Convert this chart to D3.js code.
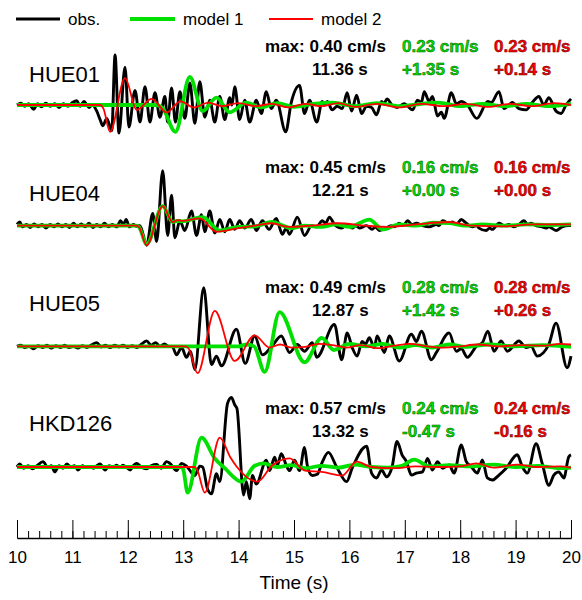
<!DOCTYPE html>
<html>
<head>
<meta charset="utf-8">
<script src="https://cdn.jsdelivr.net/npm/d3@7"></script>
<style>
  body { margin: 0; background: #fff; }
  text { font-family: "Liberation Sans", Arial, sans-serif; }
</style>
</head>
<body>
<svg id="chart" width="582" height="600"></svg>
<script>
// Stations and peak info
const stations = ["HUE01", "HUE04", "HUE05", "HKD126"];
const obsMax = ["0.40", "0.45", "0.49", "0.57"];
const obsTime = ["11.36", "12.21", "12.87", "13.32"];
const m1Max = ["0.23", "0.16", "0.28", "0.24"];
const m1Shift = ["+1.35", "+0.00", "+1.42", "-0.47"];
const m2Max = ["0.23", "0.16", "0.28", "0.24"];
const m2Shift = ["+0.14", "+0.00", "+0.26", "-0.16"];
const timeTicks = [10, 11, 12, 13, 14, 15, 16, 17, 18, 19, 20];

// Waveforms: [time (s), velocity (cm/s)] at turning points
const hue01Obs = [[10.00,0.00],[10.07,0.015],[10.14,-0.01],[10.21,0.01],[10.30,-0.035],[10.37,0.01],[10.44,-0.015],[10.52,0.015],[10.60,-0.01],[10.68,0.01],[10.76,-0.02],[10.84,0.01],[10.92,-0.01],[11.00,0.02],[11.08,0.035],[11.14,-0.01],[11.21,0.03],[11.30,-0.02],[11.36,0.0],[11.44,-0.05],[11.50,-0.12],[11.55,-0.17],[11.62,-0.11],[11.71,-0.21],[11.77,0.41],[11.84,-0.23],[11.95,0.31],[12.02,-0.18],[12.13,0.12],[12.22,-0.14],[12.31,0.15],[12.40,-0.14],[12.49,0.10],[12.58,-0.10],[12.67,0.07],[12.72,-0.14],[12.79,0.14],[12.86,-0.14],[12.94,0.11],[13.03,-0.11],[13.12,0.18],[13.21,-0.15],[13.30,0.19],[13.39,-0.10],[13.48,0.04],[13.57,-0.14],[13.66,0.07],[13.75,-0.12],[13.84,0.06],[13.88,0.0],[13.93,0.15],[14.02,-0.12],[14.11,0.04],[14.20,-0.14],[14.32,0.04],[14.41,-0.07],[14.50,0.11],[14.59,-0.03],[14.68,0.04],[14.85,-0.22],[14.95,0.02],[15.10,0.16],[15.19,-0.07],[15.28,0.04],[15.41,-0.14],[15.51,0.03],[15.55,0.0],[15.60,0.03],[15.69,-0.04],[15.78,-0.01],[15.87,-0.03],[15.96,0.10],[16.04,-0.05],[16.13,0.08],[16.22,-0.07],[16.31,-0.01],[16.40,-0.02],[16.49,-0.08],[16.58,0.03],[16.62,0.01],[16.68,0.05],[16.77,0.0],[16.86,-0.02],[16.99,0.01],[17.14,-0.04],[17.23,0.04],[17.30,0.02],[17.35,0.11],[17.44,0.03],[17.50,0.07],[17.59,-0.09],[17.66,-0.06],[17.71,-0.11],[17.84,0.10],[17.93,0.01],[18.02,0.03],[18.13,0.0],[18.30,-0.11],[18.50,0.03],[18.56,0.02],[18.70,0.11],[18.79,-0.03],[18.88,0.0],[18.94,0.02],[19.06,-0.03],[19.19,-0.04],[19.30,0.02],[19.42,0.07],[19.51,0.0],[19.60,0.06],[19.73,-0.05],[19.82,-0.07],[19.91,0.0],[20.00,0.05]];
const hue01M1 = [[10.0,0],[12.50,0.0],[12.62,-0.02],[12.86,-0.22],[13.12,0.23],[13.35,-0.05],[13.60,0.06],[13.84,-0.06],[14.14,0.02],[14.40,-0.02],[14.70,0.015],[15.0,-0.015],[15.35,0.01],[15.7,0.02],[16.1,-0.01],[16.5,0.015],[16.9,-0.01],[17.3,0.01],[17.6,0.02],[18.0,-0.01],[18.4,0.01],[18.8,-0.01],[19.2,0.01],[19.6,-0.01],[20.0,0.01]];
const hue01M2 = [[10.0,0],[11.50,0.0],[11.56,-0.03],[11.68,-0.22],[11.95,0.22],[12.16,-0.04],[12.43,0.05],[12.70,-0.06],[12.95,0.03],[13.2,-0.02],[13.45,0.02],[13.7,-0.01],[14.0,0.015],[14.3,-0.01],[14.6,0.01],[14.9,-0.02],[15.2,0.01],[15.5,-0.01],[15.8,0.015],[16.1,-0.015],[16.5,0.01],[16.9,-0.02],[17.3,0.01],[17.7,-0.01],[18.1,0.01],[18.5,-0.015],[18.9,0.01],[19.3,-0.01],[19.7,0.015],[20.0,0.0]];

const hue04Obs = [[10.0,0.01],[10.05,0.03],[10.1,-0.01],[10.17,0.01],[10.24,-0.015],[10.31,0.015],[10.38,-0.01],[10.45,0.01],[10.52,-0.02],[10.6,0.01],[10.67,-0.01],[10.74,0.015],[10.81,-0.01],[10.88,0.01],[10.95,-0.015],[11.02,0.02],[11.09,-0.01],[11.16,0.015],[11.23,-0.01],[11.3,0.02],[11.37,-0.015],[11.44,0.01],[11.51,-0.01],[11.58,0.02],[11.65,-0.01],[11.72,0.01],[11.8,-0.01],[11.87,0.04],[11.92,0.01],[11.97,0.05],[12.03,-0.01],[12.1,0.01],[12.16,-0.005],[12.22,0.0],[12.34,-0.16],[12.45,0.10],[12.52,-0.13],[12.63,0.45],[12.72,-0.08],[12.79,0.25],[12.85,-0.10],[12.94,0.04],[13.03,-0.04],[13.15,0.12],[13.24,-0.08],[13.33,0.09],[13.39,-0.05],[13.48,0.12],[13.57,-0.06],[13.66,0.05],[13.75,-0.05],[13.84,0.05],[13.93,-0.03],[14.02,0.04],[14.11,-0.02],[14.23,0.05],[14.32,-0.04],[14.43,0.04],[14.55,-0.03],[14.68,0.06],[14.79,-0.07],[14.86,-0.02],[14.92,-0.07],[15.06,0.07],[15.19,-0.08],[15.32,0.0],[15.41,-0.01],[15.51,0.04],[15.57,0.02],[15.64,0.07],[15.73,0.01],[15.86,-0.02],[15.96,0.01],[16.05,-0.02],[16.12,0.0],[16.18,-0.02],[16.31,0.0],[16.41,-0.03],[16.47,-0.01],[16.54,-0.04],[16.67,-0.02],[16.75,0.0],[16.81,-0.01],[16.90,0.02],[16.97,0.0],[17.05,0.04],[17.13,0.01],[17.21,0.02],[17.32,0.0],[17.44,-0.01],[17.57,0.01],[17.62,0.0],[17.68,0.04],[17.80,0.02],[17.86,0.03],[17.93,0.01],[18.02,0.05],[18.11,0.02],[18.22,-0.01],[18.30,0.0],[18.34,-0.02],[18.47,-0.04],[18.53,-0.02],[18.58,-0.03],[18.70,0.02],[18.80,0.0],[18.88,0.01],[18.97,-0.01],[19.06,0.01],[19.15,0.04],[19.22,0.01],[19.28,0.02],[19.37,0.0],[19.48,-0.01],[19.55,-0.02],[19.60,-0.01],[19.73,-0.04],[19.84,-0.01],[19.96,0.0],[20.0,0.0]];
const hue04M1 = [[10.0,0],[12.15,0.0],[12.20,-0.01],[12.34,-0.15],[12.63,0.16],[12.81,0.03],[12.90,0.04],[12.97,0.035],[13.35,0.07],[13.66,-0.04],[14.0,-0.01],[14.3,-0.005],[14.6,0.03],[14.8,0.0],[14.95,-0.02],[15.2,0.0],[15.5,-0.01],[15.75,0.01],[16.0,-0.01],[16.36,0.05],[16.6,-0.03],[16.9,0.01],[17.2,0.0],[17.5,0.025],[17.8,0.02],[18.1,0.0],[18.4,0.01],[18.8,0.0],[19.2,0.01],[19.6,0.005],[20.0,0.01]];
const hue04M2 = [[10.0,0],[12.15,0.0],[12.20,-0.01],[12.34,-0.16],[12.63,0.16],[12.81,0.03],[12.90,0.045],[12.97,0.04],[13.30,0.06],[13.60,-0.05],[14.0,-0.02],[14.3,0.0],[14.6,0.02],[14.9,-0.01],[15.3,0.0],[15.8,0.02],[16.3,0.0],[16.7,-0.01],[17.2,0.01],[17.8,0.03],[18.2,0.0],[18.8,-0.005],[19.3,0.01],[20.0,0.01]];

const hue05Obs = [[10.0,0.0],[10.07,0.01],[10.14,-0.01],[10.22,0.0],[10.3,-0.02],[10.38,0.005],[10.46,-0.01],[10.54,0.01],[10.62,-0.015],[10.7,0.005],[10.78,-0.01],[10.86,0.01],[10.94,-0.01],[11.02,0.0],[11.1,-0.015],[11.18,0.005],[11.26,-0.01],[11.34,0.01],[11.44,0.03],[11.52,-0.005],[11.6,0.01],[11.68,-0.01],[11.76,0.01],[11.84,-0.005],[11.92,0.01],[12.0,-0.01],[12.08,0.005],[12.16,-0.01],[12.25,0.02],[12.34,0.045],[12.42,0.01],[12.5,0.03],[12.58,0.0],[12.66,0.02],[12.74,0.0],[12.80,0.0],[12.88,-0.07],[12.97,-0.01],[13.06,-0.09],[13.13,-0.04],[13.21,-0.19],[13.37,0.48],[13.51,-0.15],[13.60,-0.08],[13.69,-0.16],[13.96,0.14],[14.12,-0.14],[14.29,0.085],[14.43,-0.07],[14.60,0.0],[14.77,0.085],[14.92,-0.05],[15.06,0.015],[15.19,-0.04],[15.33,0.03],[15.41,-0.09],[15.73,0.18],[15.86,-0.11],[15.96,0.11],[16.05,-0.01],[16.14,-0.08],[16.23,0.04],[16.29,0.02],[16.36,0.07],[16.45,-0.01],[16.50,0.085],[16.63,-0.05],[16.72,0.085],[16.90,-0.12],[17.12,0.10],[17.21,0.04],[17.30,0.125],[17.48,-0.11],[17.57,-0.05],[17.80,0.11],[17.93,-0.04],[18.02,-0.02],[18.13,-0.09],[18.29,0.0],[18.40,0.03],[18.50,0.125],[18.61,-0.04],[18.74,0.044],[18.85,-0.04],[19.06,0.044],[19.19,-0.01],[19.28,0.0],[19.39,-0.08],[19.60,0.016],[19.73,0.19],[19.93,-0.175],[20.0,-0.08]];
const hue05M1 = [[10.0,0],[14.0,0.0],[14.15,0.015],[14.28,0.0],[14.47,-0.21],[14.74,0.28],[15.19,-0.13],[15.50,0.07],[15.72,-0.03],[16.0,0.02],[16.3,0.0],[16.6,0.02],[16.9,-0.01],[17.2,0.01],[17.5,-0.01],[17.8,0.015],[18.1,-0.005],[18.5,0.015],[19.0,0.0],[19.5,0.01],[20.0,-0.005]];
const hue05M2 = [[10.0,0],[13.05,0.0],[13.10,-0.02],[13.26,-0.22],[13.57,0.29],[13.93,-0.12],[14.29,0.09],[14.56,-0.01],[14.75,0.015],[14.95,-0.01],[15.2,-0.005],[15.45,0.02],[15.7,0.01],[15.95,-0.01],[16.2,0.01],[16.5,-0.015],[16.8,0.005],[17.1,0.02],[17.4,0.0],[17.7,-0.01],[18.0,0.0],[18.3,0.015],[18.7,0.0],[19.1,0.01],[19.5,0.005],[19.8,0.02],[20.0,0.015]];

const hkd126Obs = [[10.0,0.0],[10.05,0.025],[10.12,-0.01],[10.2,0.01],[10.28,-0.015],[10.36,0.01],[10.47,0.044],[10.56,-0.005],[10.62,0.01],[10.68,-0.04],[10.76,0.01],[10.83,-0.01],[10.9,0.025],[10.97,0.0],[11.04,0.01],[11.1,-0.025],[11.18,0.01],[11.25,-0.005],[11.3,0.005],[11.38,-0.01],[11.44,0.01],[11.5,0.025],[11.59,-0.025],[11.66,0.01],[11.73,0.0],[11.8,0.015],[11.86,-0.005],[11.91,0.015],[11.97,0.0],[12.04,-0.025],[12.1,0.01],[12.16,0.03],[12.24,0.0],[12.34,-0.015],[12.42,0.01],[12.52,0.02],[12.6,-0.01],[12.70,0.044],[12.76,0.03],[12.88,-0.03],[12.97,0.03],[13.06,0.007],[13.21,-0.07],[13.30,0.007],[13.35,0.0],[13.44,-0.18],[13.51,-0.22],[13.60,-0.055],[13.66,-0.12],[13.80,0.52],[13.87,0.57],[13.93,0.51],[13.97,0.48],[14.09,-0.23],[14.14,-0.12],[14.20,-0.26],[14.25,-0.07],[14.32,-0.14],[14.50,0.055],[14.56,-0.03],[14.65,0.08],[14.70,0.014],[14.77,0.11],[14.86,0.014],[14.92,-0.03],[15.01,0.055],[15.10,-0.03],[15.19,0.16],[15.24,0.014],[15.33,-0.07],[15.42,-0.06],[15.51,0.04],[15.62,0.12],[15.77,0.0],[15.95,-0.12],[16.05,-0.01],[16.31,0.17],[16.40,-0.05],[16.49,-0.09],[16.58,-0.025],[16.67,-0.08],[16.77,0.0],[16.86,0.21],[16.95,0.10],[17.03,0.044],[17.12,-0.066],[17.21,-0.05],[17.32,-0.04],[17.41,0.07],[17.50,-0.025],[17.59,0.044],[17.68,-0.01],[17.80,0.016],[17.89,-0.05],[18.02,0.18],[18.11,0.044],[18.20,0.003],[18.31,-0.05],[18.40,0.057],[18.49,-0.09],[18.58,-0.107],[18.70,-0.066],[18.83,-0.01],[19.03,0.10],[19.12,0.003],[19.21,-0.05],[19.37,0.19],[19.48,0.03],[19.60,-0.15],[19.69,-0.066],[19.78,-0.04],[19.87,-0.09],[19.96,0.085],[20.0,0.10]];
const hkd126M1 = [[10.0,0],[12.95,0.0],[13.0,-0.02],[13.08,-0.21],[13.33,0.24],[13.57,0.07],[13.75,-0.01],[14.05,-0.12],[14.29,0.01],[14.45,0.03],[14.7,0.0],[14.95,0.015],[15.2,-0.01],[15.5,0.01],[15.8,-0.005],[16.1,0.02],[16.4,0.0],[16.7,-0.005],[16.95,0.01],[17.17,0.06],[17.45,0.005],[17.8,0.015],[18.2,0.005],[18.6,0.02],[19.0,0.0],[19.4,0.01],[19.8,-0.01],[20.0,-0.005]];
const hkd126M2 = [[10.0,0],[13.20,0.0],[13.25,-0.02],[13.39,-0.21],[13.66,0.24],[13.85,0.08],[13.97,0.0],[14.34,-0.12],[14.60,0.01],[14.92,0.07],[15.2,-0.03],[15.5,-0.04],[15.87,-0.07],[16.13,0.044],[16.4,0.0],[16.8,-0.01],[17.2,0.005],[17.6,0.0],[18.0,0.005],[18.29,0.03],[18.6,-0.005],[19.03,0.02],[19.4,0.0],[19.8,0.005],[20.0,-0.005]];

const obsTraces = [hue01Obs, hue04Obs, hue05Obs, hkd126Obs];
const m1Traces = [hue01M1, hue04M1, hue05M1, hkd126M1];
const m2Traces = [hue01M2, hue04M2, hue05M2, hkd126M2];

// Layout
const labelLift = [23, 25, 35, 36];
const green = "#00e000", red = "#ff0000";

const svg = d3.select("#chart");
const x = d3.scaleLinear().domain([10, 20]).range([17, 571]);
const rowY = d3.scalePoint().domain(stations).range([105, 467]);
const amp = d3.scaleLinear().domain([-1, 1]).range([122, -122]);

const line = d3.line()
  .x(d => x(d[0]))
  .y(d => amp(d[1]))
  .curve(d3.curveMonotoneX);

stations.forEach((name, i) => {
  const y0 = rowY(name);
  const g = svg.append("g").attr("transform", "translate(0," + y0 + ")");

  g.append("path").datum(obsTraces[i])
    .attr("d", line).attr("fill", "none")
    .attr("stroke", "#000").attr("stroke-width", 2.9).attr("stroke-linejoin", "round");
  g.append("path").datum(m1Traces[i])
    .attr("d", line).attr("fill", "none")
    .attr("stroke", green).attr("stroke-width", 3.8).attr("stroke-linejoin", "round");
  g.append("path").datum(m2Traces[i])
    .attr("d", line).attr("fill", "none")
    .attr("stroke", red).attr("stroke-width", 1.8).attr("stroke-linejoin", "round");

  // station name
  g.append("text")
    .attr("x", 29).attr("y", -labelLift[i])
    .style("font-size", "22px")
    .text(name);

  // peak values
  const r1 = -53, r2 = -30;
  g.append("text").attr("x", 386).attr("y", r1)
    .attr("text-anchor", "end")
    .style("font-size", "17px").style("font-weight", "bold")
    .text("max: " + obsMax[i] + " cm/s");
  g.append("text").attr("x", 312).attr("y", r2)
    .style("font-size", "17px").style("font-weight", "bold")
    .text(obsTime[i] + " s");

  const cols = [
    { x: 402, fill: "#00dd00", edge: "#006000", v: m1Max[i], s: m1Shift[i] },
    { x: 494, fill: "#ff0000", edge: "#600000", v: m2Max[i], s: m2Shift[i] },
  ];
  cols.forEach(c => {
    [[r1, c.v + " cm/s"], [r2, c.s + " s"]].forEach(([yy, t]) => {
      g.append("text").attr("x", c.x).attr("y", yy)
        .style("font-size", "17px").style("font-weight", "bold")
        .attr("fill", c.fill).attr("stroke", c.edge).attr("stroke-width", 0.5)
        .text(t);
    });
  });
});

// Legend
const legend = [
  { label: "obs.", color: "#000", w: 2.9, x0: 16, x1: 60 },
  { label: "model 1", color: green, w: 3.8, x0: 130, x1: 175 },
  { label: "model 2", color: red, w: 1.8, x0: 269, x1: 313 },
];
legend.forEach(l => {
  svg.append("line").attr("x1", l.x0).attr("x2", l.x1)
    .attr("y1", 19).attr("y2", 19)
    .attr("stroke", l.color).attr("stroke-width", l.w);
  svg.append("text").attr("x", l.x1 + 8).attr("y", 25)
    .style("font-size", "17px").text(l.label);
});

// Time axis
const axisY = 538;
svg.append("g")
  .attr("transform", "translate(0," + axisY + ")")
  .call(d3.axisBottom(x).tickValues(d3.range(10, 20.001, 0.2)).tickSizeInner(-7).tickSizeOuter(0).tickFormat(""))
  .call(g => g.selectAll("line").attr("stroke-width", 1));
svg.append("g")
  .attr("transform", "translate(0," + axisY + ")")
  .call(d3.axisBottom(x).tickValues(timeTicks).tickSizeInner(-18).tickSizeOuter(0).tickPadding(13))
  .call(g => g.select(".domain").attr("stroke-width", 1.6))
  .call(g => g.selectAll("line").attr("stroke-width", 1))
  .call(g => g.selectAll("text")
    .style("font-size", "17px")
    .style("font-family", "'Liberation Sans', Arial, sans-serif")
    .attr("fill", "#000"));

svg.append("text")
  .attr("x", x(15)).attr("y", 589)
  .attr("text-anchor", "middle")
  .style("font-size", "19px")
  .text("Time (s)");
</script>
</body>
</html>
